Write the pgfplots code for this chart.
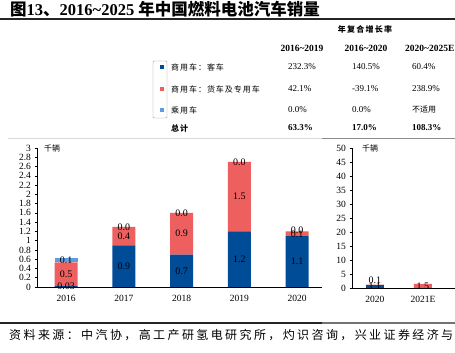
\documentclass[border=0pt]{standalone}
\usepackage{pgfplots}
\usepackage{pgfplotstable}
\pgfplotsset{compat=1.18}
\usepackage{fontspec}
\setmainfont{Liberation Serif}
\newfontfamily\cjk{Noto Sans CJK SC}
\newfontfamily\cjks[LetterSpace=12]{Noto Sans CJK SC}
\newfontfamily\cjkh[LetterSpace=16]{Noto Sans CJK SC}
\newfontfamily\cjksrc[LetterSpace=20]{Noto Sans CJK SC}
\definecolor{cdark}{RGB}{0,76,151}
\definecolor{cred}{RGB}{238,95,95}
\definecolor{clight}{RGB}{92,156,230}
\pgfplotstableread{
x bus truck car
0 0.03 0.5 0.1
1 0.9 0.4 0.0
2 0.7 0.9 0.0
3 1.2 1.5 0.0
4 1.1 0.1 0.0
}\leftbars
\pgfplotstableread{
x y lab
0 0.015 0.03
0 0.28 0.5
0 0.58 0.1
1 0.45 0.9
1 1.10 0.4
1 1.30 0.0
2 0.35 0.7
2 1.15 0.9
2 1.60 0.0
3 0.60 1.2
3 1.95 1.5
3 2.70 0.0
4 0.55 1.1
4 1.13 0.1
4 1.22 0.0
}\leftlabels
\pgfplotstableread{
x bus truck
0 1.1 0.1
1 0.0 1.5
}\rightbars
\pgfplotstableread{
x y lab
0 0.55 1.1
0 2.6 0.1
1 0.75 1.5
}\rightlabels
\pgfplotsset{
  barax/.style={scale only axis, anchor=south west,
    axis x line*=bottom, axis y line*=left,
    axis line style={-, line width=0.8pt}, ymin=0,
    tick align=outside, major tick length=2.5pt,
    xtick style={draw=none}, ytick style={line width=0.5pt, black},
    tick label style={font=\fontsize{9.5}{10}\selectfont},
    /pgf/number format/assume math mode=true,
    ybar stacked, clip=false},
  labax/.style={scale only axis, anchor=south west, hide axis, ymin=0, clip=false},
  labplot/.style={draw=none, mark=none, nodes near coords, point meta=explicit symbolic,
    every node near coord/.append style={anchor=center, inner sep=0pt,
      font=\fontsize{10}{11}\selectfont}},
}
\begin{document}
\begin{tikzpicture}
\useasboundingbox (0,0) rectangle (455pt,353pt);
\clip (0,0) rectangle (455pt,353pt);
% title
\node[anchor=west, inner sep=0pt] at (10pt,344pt) {\fontsize{16.5}{17}\selectfont\bfseries{\cjk 图}13{\cjk 、}2016\textasciitilde2025 {\cjk 年中国燃料电池汽车销量}};
\draw[line width=1.8pt, black!85] (0,334pt) -- (455pt,334pt);
% table header
\node[inner sep=0pt] at (365pt,324pt) {\fontsize{8}{9}\selectfont\cjkh\bfseries 年复合增长率};
\node[inner sep=0pt, font=\fontsize{9.5}{10}\selectfont\bfseries] at (302pt,305pt) {2016\textasciitilde2019};
\node[inner sep=0pt, font=\fontsize{9.5}{10}\selectfont\bfseries] at (366pt,305pt) {2016\textasciitilde2020};
\node[inner sep=0pt, anchor=west, font=\fontsize{9.5}{10}\selectfont\bfseries] at (405pt,305pt) {2020\textasciitilde2025E};
% legend box
\draw[black!40, rounded corners=1pt] (153pt,235pt) rectangle (167pt,292pt);
\fill[cdark] (160pt,284pt) rectangle (164pt,288pt);
\fill[cred] (160pt,262pt) rectangle (164pt,266pt);
\fill[clight] (160pt,241pt) rectangle (164pt,245pt);
\node[anchor=west, inner sep=0pt] at (171pt,286pt) {\fontsize{8}{9}\selectfont\cjks 商用车：客车};
\node[anchor=west, inner sep=0pt] at (171pt,264pt) {\fontsize{8}{9}\selectfont\cjks 商用车：货车及专用车};
\node[anchor=west, inner sep=0pt] at (171pt,243pt) {\fontsize{8}{9}\selectfont\cjks 乘用车};
\node[anchor=west, inner sep=0pt] at (171pt,225pt) {\fontsize{8}{9}\selectfont\cjks\bfseries 总计};
% values
\begin{scope}[every node/.style={anchor=west, inner sep=0pt, font=\fontsize{9}{10}\selectfont}]
\node at (288pt,286pt) {232.3\%};
\node at (288pt,264pt) {42.1\%};
\node at (288pt,243pt) {0.0\%};
\node at (352pt,286pt) {140.5\%};
\node at (352pt,264pt) {-39.1\%};
\node at (352pt,243pt) {0.0\%};
\node at (412pt,286pt) {60.4\%};
\node at (412pt,264pt) {238.9\%};
\node at (412pt,243pt) {\fontsize{8}{9}\selectfont\cjk 不适用};
\node at (288pt,225pt) {\bfseries 63.3\%};
\node at (352pt,225pt) {\bfseries 17.0\%};
\node at (412pt,225pt) {\bfseries 108.3\%};
\end{scope}
\draw[black!15, line width=0.8pt] (8pt,215pt) -- (322pt,215pt);
\draw[black!45, line width=0.8pt] (322pt,215pt) -- (455pt,215pt);
% left chart
\begin{axis}[barax, at={(37pt,66pt)}, width=285pt, height=139pt,
  xmin=-0.502, xmax=4.43, ymax=3, bar width=23pt,
  ytick={0,0.2,0.4,0.6,0.8,1,1.2,1.4,1.6,1.8,2,2.2,2.4,2.6,2.8,3},
  xtick={0,1,2,3,4}, xticklabels={2016,2017,2018,2019,2020},
  xticklabel style={yshift=-2pt}]
\addplot[fill=cdark, draw=none] table[x=x,y=bus]{\leftbars};
\addplot[fill=cred, draw=none] table[x=x,y=truck]{\leftbars};
\addplot[fill=clight, draw=none] table[x=x,y=car]{\leftbars};
\end{axis}
\begin{axis}[labax, at={(37pt,66pt)}, width=285pt, height=139pt,
  xmin=-0.502, xmax=4.43, ymax=3]
\addplot[labplot] table[x=x,y=y,meta=lab]{\leftlabels};
\end{axis}
\node[inner sep=0pt] at (52pt,205pt) {\fontsize{8}{9}\selectfont\cjk 千辆};
% right chart
\begin{axis}[barax, at={(352pt,65pt)}, width=103pt, height=140pt,
  xmin=-0.479, xmax=1.667, ymax=50, bar width=18pt,
  ytick={0,5,10,15,20,25,30,35,40,45,50},
  xtick={0,1}, xticklabels={2020,2021E},
  xticklabel style={yshift=-2pt}]
\addplot[fill=cdark, draw=none] table[x=x,y=bus]{\rightbars};
\addplot[fill=cred, draw=none] table[x=x,y=truck]{\rightbars};
\end{axis}
\begin{axis}[labax, at={(352pt,65pt)}, width=103pt, height=140pt,
  xmin=-0.479, xmax=1.667, ymax=50]
\addplot[labplot] table[x=x,y=y,meta=lab]{\rightlabels};
\end{axis}
\node[inner sep=0pt] at (370pt,205pt) {\fontsize{8}{9}\selectfont\cjk 千辆};
% bottom
\draw[line width=1.5pt, black!85] (0,30pt) -- (322pt,30pt);
\draw[line width=1.5pt, black!55] (322pt,30pt) -- (455pt,30pt);
\node[anchor=west, inner sep=0pt] at (9pt,18pt) {\fontsize{12}{13}\selectfont\cjksrc 资料来源：中汽协，高工产研氢电研究所，灼识咨询，兴业证券经济与金融研究院整理};
\end{tikzpicture}
\end{document}
